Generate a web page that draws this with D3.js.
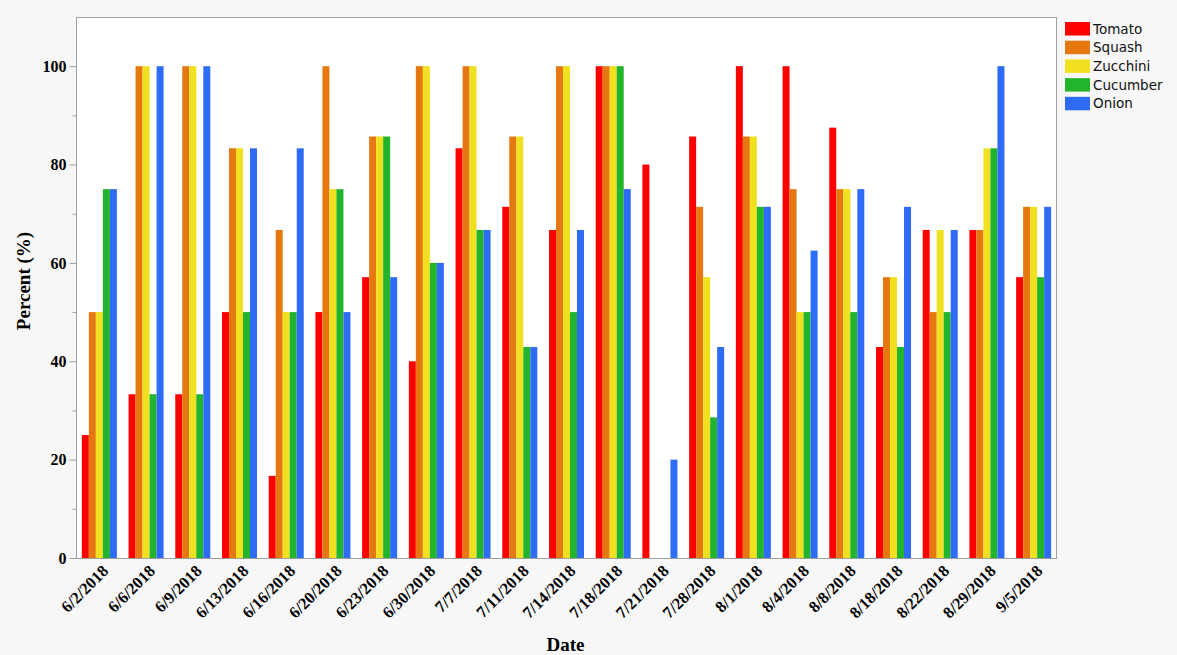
<!DOCTYPE html>
<html><head><meta charset="utf-8">
<script src="https://cdn.jsdelivr.net/npm/d3@7"></script>
<style>body{margin:0;background:#f7f7f7;}svg{display:block;}</style>
</head><body>
<svg id="c" width="1177" height="655"></svg>
<script>
const dates = ["6/2/2018","6/6/2018","6/9/2018","6/13/2018","6/16/2018","6/20/2018","6/23/2018","6/30/2018","7/7/2018","7/11/2018","7/14/2018","7/18/2018","7/21/2018","7/28/2018","8/1/2018","8/4/2018","8/8/2018","8/18/2018","8/22/2018","8/29/2018","9/5/2018"];
const seriesNames = ["Tomato","Squash","Zucchini","Cucumber","Onion"];
const colors = ["#ff0000","#e57810","#f0e020","#22b42c","#2e6cf6"];
const tomato   = [25,33.3,33.3,50,16.7,50,57.1,40,83.3,71.4,66.7,100,80,85.7,100,100,87.5,42.9,66.7,66.7,57.1];
const squash   = [50,100,100,83.3,66.7,100,85.7,100,100,85.7,100,100,0,71.4,85.7,75,75,57.1,50,66.7,71.4];
const zucchini = [50,100,100,83.3,50,75,85.7,100,100,85.7,100,100,0,57.1,85.7,50,75,57.1,66.7,83.3,71.4];
const cucumber = [75,33.3,33.3,50,50,75,85.7,60,66.7,42.9,50,100,0,28.6,71.4,50,50,42.9,50,83.3,57.1];
const onion    = [75,100,100,83.3,83.3,50,57.1,60,66.7,42.9,66.7,75,20,42.9,71.4,62.5,75,71.4,66.7,100,71.4];
const yTicks = [0,20,40,60,80,100];
const yMinor = [10,30,50,70,90];
const values = [tomato,squash,zucchini,cucumber,onion];

const svg = d3.select("#c");
const L=76, R=1057, T=17, B=558;
svg.append("rect").attr("x",L).attr("y",T).attr("width",R-L).attr("height",B-T).attr("fill","#fff");

const x0 = d3.scaleBand().domain(dates).range([L,R]).paddingInner(0.25).paddingOuter(0.125);
const x1 = d3.scaleBand().domain(seriesNames).range([0,x0.bandwidth()]);
const y = d3.scaleLinear().domain([0,110]).range([B,T]);

const g = svg.append("g");
dates.forEach((d,i)=>{
  seriesNames.forEach((s,j)=>{
    const v = values[j][i];
    if(v<=0) return;
    g.append("rect").attr("x",x0(d)+x1(s)).attr("y",y(v))
      .attr("width",x1.bandwidth()).attr("height",B-y(v)).attr("fill",colors[j]);
  });
});

// frame
svg.append("rect").attr("x",L+0.5).attr("y",T+0.5).attr("width",R-L-1).attr("height",B-T)
  .attr("fill","none").attr("stroke","#a0a0a0");

// y axis
const ya = svg.append("g").attr("transform",`translate(${L+0.5},0)`)
  .call(d3.axisLeft(y).tickValues(yTicks).tickSize(7).tickPadding(3).tickFormat(d3.format("d")));
ya.select(".domain").remove();
ya.selectAll("line").attr("stroke","#a0a0a0");
ya.selectAll("text").attr("font-family","'Liberation Serif',serif").attr("font-weight","bold").attr("font-size",16).attr("fill","#000");
const ym = svg.append("g").attr("transform",`translate(${L+0.5},0)`)
  .call(d3.axisLeft(y).tickValues(yMinor).tickSize(4).tickFormat(""));
ym.select(".domain").remove();
ym.selectAll("line").attr("stroke","#a0a0a0");

// x axis
const xa = svg.append("g").attr("transform",`translate(0,${B})`)
  .call(d3.axisBottom(x0).tickSize(0).tickPadding(0));
xa.select(".domain").remove();
xa.selectAll("text")
  .attr("font-family","'Liberation Serif',serif").attr("font-weight","bold").attr("font-size",16.5).attr("fill","#000")
  .attr("text-anchor","end").attr("dy",null).attr("y",0)
  .attr("transform","translate(10,14) rotate(-45)");

// titles
svg.append("text").attr("x",(L+R)/2 - 1).attr("y",651).attr("text-anchor","middle")
  .attr("font-family","'Liberation Serif',serif").attr("font-weight","bold").attr("font-size",19).text("Date");
svg.append("text").attr("transform",`translate(30,281) rotate(-90)`).attr("text-anchor","middle")
  .attr("font-family","'Liberation Serif',serif").attr("font-weight","bold").attr("font-size",19).text("Percent (%)");

// legend
const lg = svg.append("g");
seriesNames.forEach((s,j)=>{
  const yy = 22 + j*18.7;
  lg.append("rect").attr("x",1065).attr("y",yy).attr("width",25).attr("height",13.5).attr("fill",colors[j]);
  lg.append("text").attr("x",1093).attr("y",yy+11.5).attr("font-family","'DejaVu Sans',sans-serif")
    .attr("font-size",13.5).attr("fill","#111").text(s);
});
</script>
</body></html>
